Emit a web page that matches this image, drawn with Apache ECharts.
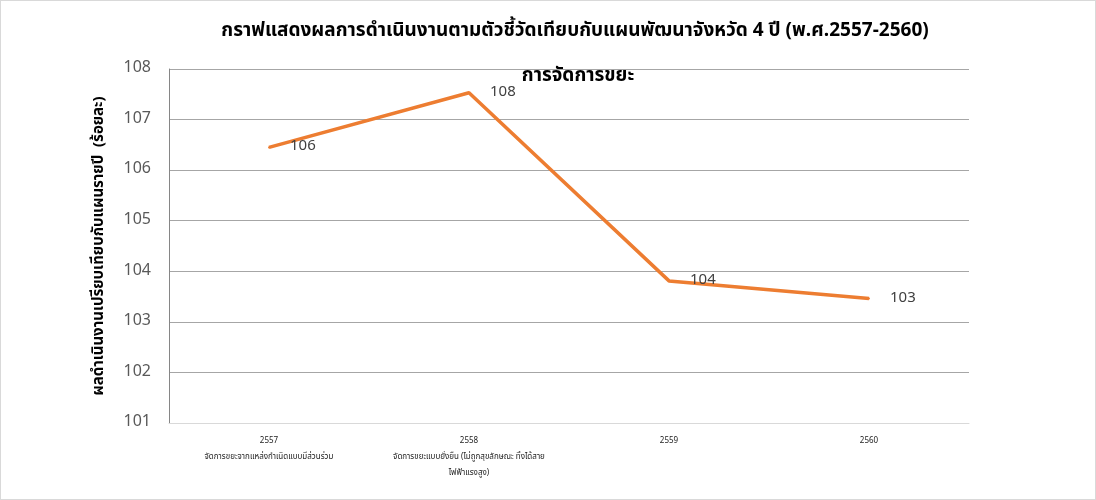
<!DOCTYPE html>
<html><head><meta charset="utf-8">
<script src="https://cdn.jsdelivr.net/npm/echarts@6/dist/echarts.min.js"></script>
<style>
html,body{margin:0;padding:0;background:#fff;}
#c{width:1096px;height:500px;box-sizing:border-box;border:1px solid #d9d9d9;}
</style></head>
<body><div id="c"></div>
<script>
const years = ['2557','2558','2559','2560'];
const subLabels = ['จัดการขยะจากแหล่งกำเนิดแบบมีส่วนร่วม','จัดการขยะแบบยั่งยืน (ไม่ถูกสุขลักษณะ ทิ้งได้สาย\nไฟฟ้าแรงสูง)','',''];
const values = [106.45, 107.53, 103.81, 103.46];
const yTicks = {min:101, max:108, interval:1};
const titleText = 'กราฟแสดงผลการดำเนินงานตามตัวชี้วัดเทียบกับแผนพัฒนาจังหวัด 4 ปี (พ.ศ.2557-2560)';
const subTitle = 'การจัดการขยะ';
const yName = 'ผลดำเนินงานเปรียบเทียบกับแผนรายปี  (ร้อยละ)';

const FF = "'Noto Sans Thai','Noto Sans','Tahoma',sans-serif";
const chart = echarts.init(document.getElementById('c'));
chart.setOption({
  textStyle:{fontFamily:FF},
  graphic:[
    {type:'text',x:574,y:22,style:{text:titleText,fontSize:19,fontWeight:'bold',fill:'#000',fontFamily:FF,
      textAlign:'center',textVerticalAlign:'top'}},
    {type:'text',x:577,y:67,style:{text:subTitle,fontSize:19,fontWeight:'bold',fill:'#000',fontFamily:FF,
      textAlign:'center',textVerticalAlign:'top'}}
  ],
  grid:{left:168,right:126,top:68,bottom:76},
  xAxis:{
    type:'category',
    data:years.map((y,i)=>subLabels[i]?y+'\n'+subLabels[i]:y),
    axisLine:{show:true,lineStyle:{color:'#d9d9d9'}},
    axisTick:{show:false},
    axisLabel:{fontSize:8,color:'#222',lineHeight:16,margin:10,interval:0,fontFamily:FF}
  },
  yAxis:{
    type:'value',min:yTicks.min,max:yTicks.max,interval:yTicks.interval,
    name:yName,nameLocation:'middle',nameGap:62,
    nameTextStyle:{fontSize:15,fontWeight:'bold',color:'#000',fontFamily:FF},
    axisLine:{show:true,lineStyle:{color:'#868686'}},
    axisTick:{show:false},
    axisLabel:{fontSize:16,color:'#595959',margin:18},
    splitLine:{lineStyle:{color:'#a6a6a6'}}
  },
  series:[{
    type:'line',data:values,symbol:'circle',symbolSize:2,showSymbol:true,
    lineStyle:{color:'#ED7D31',width:3.5},
    itemStyle:{color:'#ED7D31'},
    label:{show:true,position:'right',distance:20,fontSize:15,color:'#404040',
      formatter:p=>Math.round(p.value)}
  }]
});
</script></body></html>
